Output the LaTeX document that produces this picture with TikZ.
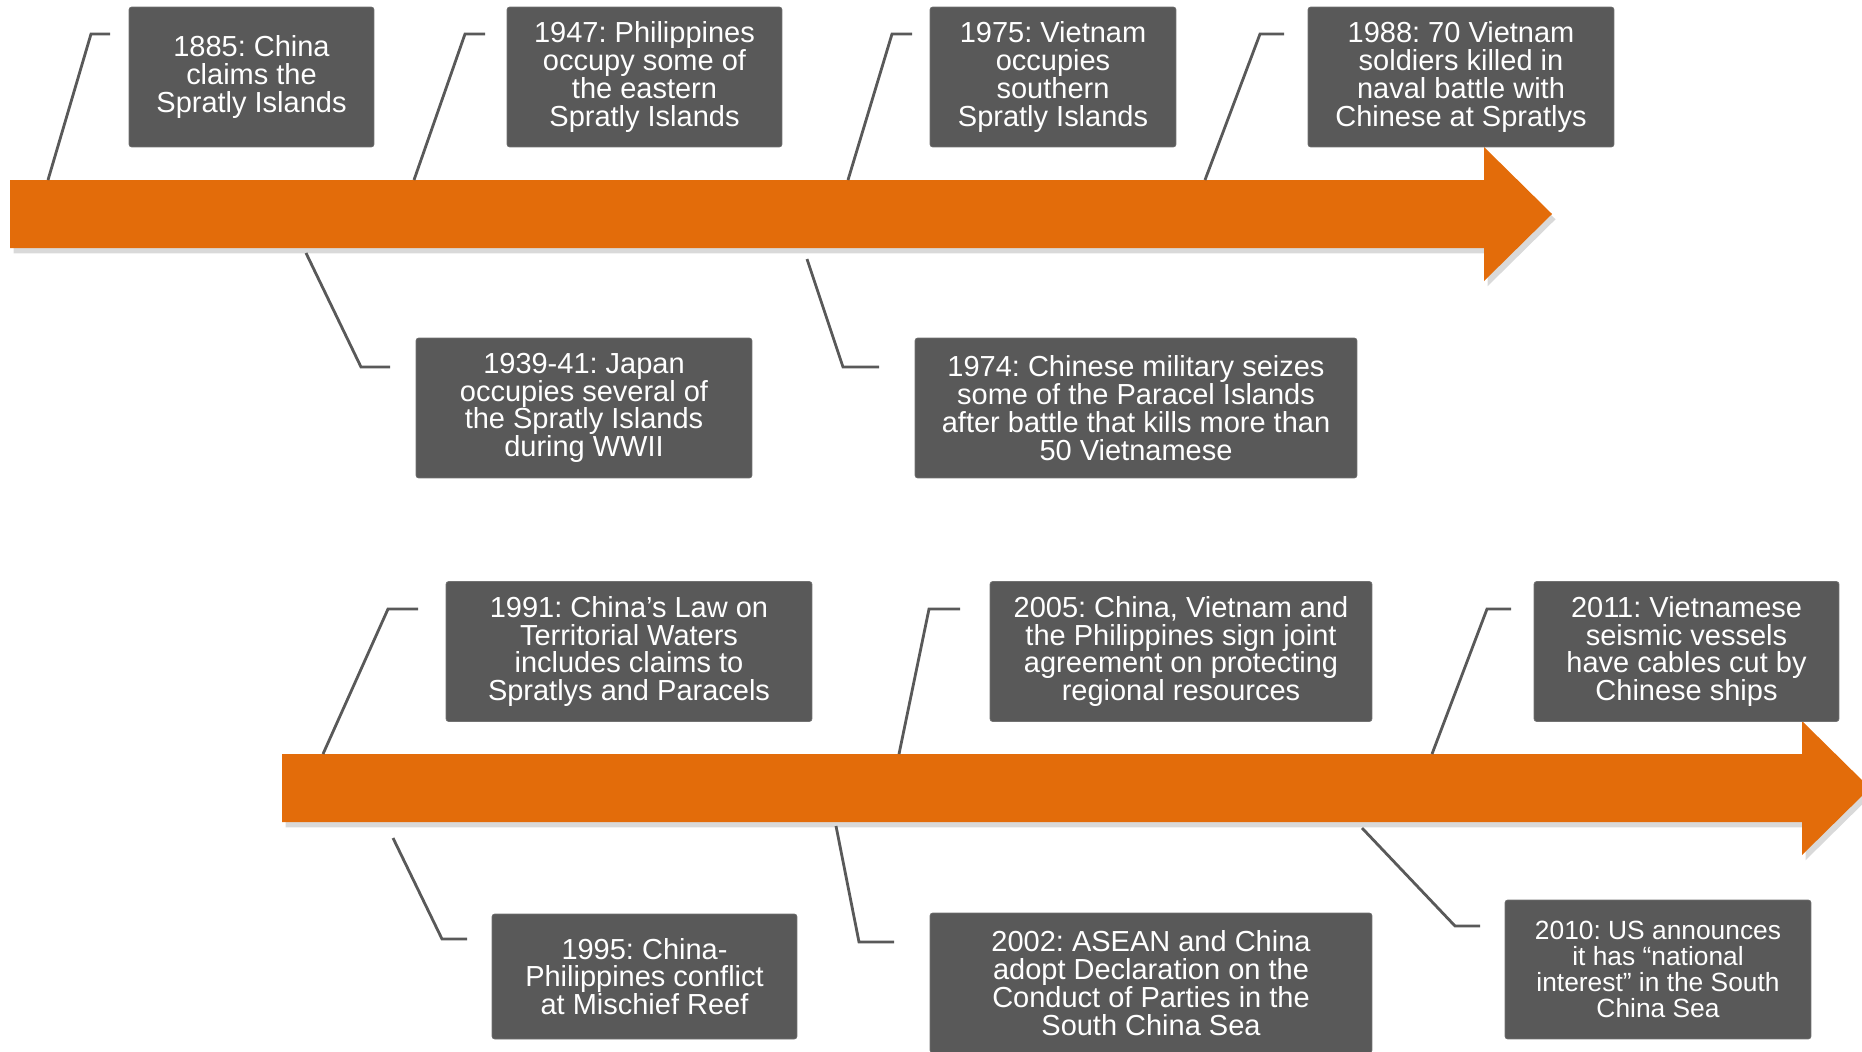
\documentclass[tikz,border=0pt]{standalone}
\usepackage{fontspec}
\setmainfont{Liberation Sans}
\usetikzlibrary{shadows}
\frenchspacing

\definecolor{timeorange}{HTML}{E36C0A}
\definecolor{boxgray}{HTML}{595959}

\begin{document}
\begin{tikzpicture}[
  x=0.02cm, y=-0.02cm,
  timeline/.style={fill=timeorange, drop shadow={shadow xshift=2pt, shadow yshift=-3pt, opacity=0.3}},
  event/.style={rectangle, fill=boxgray, draw=boxgray!85!white, line width=0.4pt, rounded corners=1.5pt,
                text=white, align=center, inner sep=2pt, minimum height=2.8cm,
                font={\fontsize{16.5}{15.8}\selectfont}},
  leader/.style={draw=boxgray, line width=1.6pt},
]

\useasboundingbox (0,0) rectangle (1862,1051);

%% ============ TIMELINE ARROWS ============
\fill[timeline] (10,180) -- (1484,180) -- (1484,147) -- (1552,214) -- (1484,281)
  -- (1484,248) -- (10,248) -- cycle;
\fill[timeline] (282,754) -- (1802,754) -- (1802,721) -- (1870,788) -- (1802,855)
  -- (1802,822) -- (282,822) -- cycle;

%% ============ LEADER LINES ============
% event / foot on arrow / knee / free end
\foreach \ev/\ax/\ay/\kx/\ky/\ex in {
    1885/48/180/91/34/110, 1947/414/180/465/34/485,
    1975/848/180/892/34/912, 1988/1205/180/1260/34/1284,
    1939/306/253/361/367/390, 1974/807/259/843/367/879,
    1991/323/754/388/609/418, 2005/899/754/929/609/960,
    2011/1432/754/1487/609/1511, 1995/393/838/442/939/467,
    2002/836/826/859/942/894, 2010/1362/828/1455/926/1480}{
  \coordinate (a\ev) at (\ax,\ay);
  \coordinate (k\ev) at (\kx,\ky);
  \coordinate (z\ev) at (\ex,\ky);
  \draw[leader] (a\ev) -- (k\ev) -- (z\ev);
}

%% ============ FIRST ROW ============
\node[event, minimum width=4.9cm]  (e1885) at (251.5,77) {1885: China\\claims the\\Spratly Islands};
\node[event, minimum width=5.5cm]  (e1947) at (644.5,77) {1947: Philippines\\occupy some of\\the eastern\\Spratly Islands};
\node[event, minimum width=4.92cm] (e1975) at (1053,77)  {1975: Vietnam\\occupies\\southern\\Spratly Islands};
\node[event, minimum width=6.12cm] (e1988) at (1461,77)  {1988: 70 Vietnam\\soldiers killed in\\naval battle with\\Chinese at Spratlys};

\node[event, minimum width=6.72cm] (e1939) at (584,408)  {1939-41: Japan\\occupies several of\\the Spratly Islands\\during WWII};
\node[event, minimum width=8.84cm] (e1974) at (1136,408) {1974: Chinese military seizes\\some of the Paracel Islands\\after battle that kills more than\\50 Vietnamese};

%% ============ SECOND ROW ============
\node[event, minimum width=7.32cm] (e1991) at (629,651.5)    {1991: China’s Law on\\Territorial Waters\\includes claims to\\Spratlys and Paracels};
\node[event, minimum width=7.64cm] (e2005) at (1181,651.5)   {2005: China, Vietnam and\\the Philippines sign joint\\agreement on protecting\\regional resources};
\node[event, minimum width=6.1cm]  (e2011) at (1686.5,651.5) {2011: Vietnamese\\seismic vessels\\have cables cut by\\Chinese ships};

\node[event, minimum width=6.1cm, minimum height=2.5cm] (e1995) at (644.5,976.5) {1995: China-\\Philippines conflict\\at Mischief Reef};
\node[event, minimum width=8.84cm] (e2002) at (1151,983) {2002: ASEAN and China\\adopt Declaration on the\\Conduct of Parties in the\\South China Sea};
\node[event, minimum width=6.12cm, minimum height=2.78cm, font={\fontsize{15}{14.8}\selectfont}]
  (e2010) at (1658,969.5) {2010: US announces\\it has “national\\interest” in the South\\China Sea};

\end{tikzpicture}
\end{document}
